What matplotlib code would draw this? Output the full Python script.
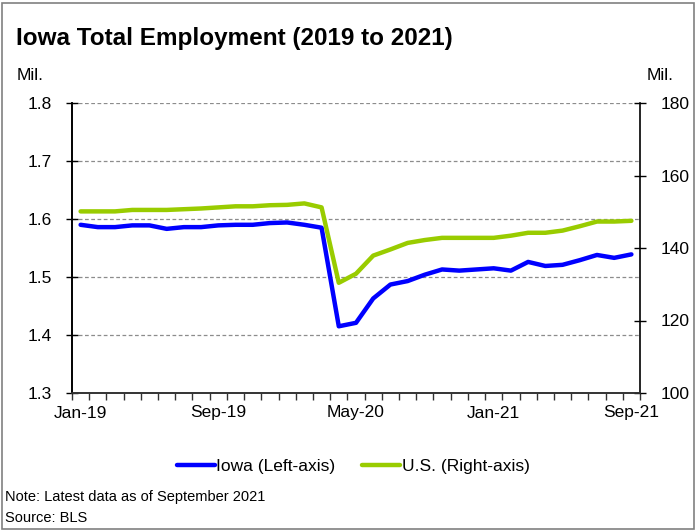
import matplotlib.pyplot as plt
import matplotlib.patches as mpatches
import numpy as np

plt.rcParams['font.family'] = ['Liberation Sans Narrow', 'Liberation Sans', 'DejaVu Sans']

months = ['Jan-19', 'Feb-19', 'Mar-19', 'Apr-19', 'May-19', 'Jun-19', 'Jul-19', 'Aug-19',
          'Sep-19', 'Oct-19', 'Nov-19', 'Dec-19', 'Jan-20', 'Feb-20', 'Mar-20', 'Apr-20',
          'May-20', 'Jun-20', 'Jul-20', 'Aug-20', 'Sep-20', 'Oct-20', 'Nov-20', 'Dec-20',
          'Jan-21', 'Feb-21', 'Mar-21', 'Apr-21', 'May-21', 'Jun-21', 'Jul-21', 'Aug-21',
          'Sep-21']

# Iowa total nonfarm employment, millions (left axis)
iowa = [1.590, 1.586, 1.586, 1.589, 1.589, 1.583, 1.586, 1.586,
        1.589, 1.590, 1.590, 1.593, 1.594, 1.590, 1.585, 1.415,
        1.421, 1.463, 1.487, 1.493, 1.504, 1.513, 1.511, 1.513,
        1.515, 1.511, 1.526, 1.519, 1.521, 1.529, 1.538, 1.533,
        1.539]

# U.S. total nonfarm employment, millions (right axis)
us = [150.1, 150.1, 150.1, 150.5, 150.5, 150.5, 150.7, 150.9,
      151.2, 151.5, 151.5, 151.8, 151.9, 152.3, 151.2, 130.4,
      132.9, 137.9, 139.6, 141.4, 142.2, 142.8, 142.8, 142.8,
      142.8, 143.4, 144.2, 144.2, 144.8, 146.0, 147.3, 147.3,
      147.5]

label_months = ['Jan-19', 'Sep-19', 'May-20', 'Jan-21', 'Sep-21']

x = np.arange(len(months))

fig = plt.figure(figsize=(6.97, 5.31), dpi=100)
ax = fig.add_axes([72/697, 1 - 393/531, 568/697, 290/531])
ax2 = ax.twinx()

ax.plot(x, iowa, color='#0000ff', lw=3.2, solid_capstyle='round', zorder=3)
ax2.plot(x, us, color='#99cc00', lw=3.2, solid_capstyle='round', zorder=3)

ax.set_xlim(-0.5, len(months) - 0.5)
ax.set_ylim(1.3, 1.8)
ax2.set_ylim(100, 180)
ax.set_yticks([1.3, 1.4, 1.5, 1.6, 1.7, 1.8])
ax.set_yticklabels(['1.3', '1.4', '1.5', '1.6', '1.7', '1.8'])
ax2.set_yticks([100, 120, 140, 160, 180])

for v in [1.4, 1.5, 1.6, 1.7, 1.8]:
    ax.axhline(v, color='#8c8c8c', lw=0.9, ls=(0, (3, 2)), zorder=1)

# category labels at the month, tick marks between months
ax.set_xticks([months.index(m) for m in label_months])
ax.set_xticklabels(label_months)
ax.set_xticks(np.arange(-0.5, len(months)), minor=True)
ax.tick_params(axis='x', which='major', length=0, pad=9, labelsize=12.5)
ax.tick_params(axis='x', which='minor', length=5, width=1, direction='out', color='#333333')
ax.tick_params(axis='y', length=9, width=1, direction='inout', pad=10, labelsize=12.5)
ax2.tick_params(axis='y', length=9, width=1, direction='inout', pad=10, labelsize=12.5)

for a in (ax, ax2):
    a.spines['top'].set_visible(False)
    a.spines['left'].set_linewidth(1.2)
    a.spines['right'].set_linewidth(1.2)
    a.spines['bottom'].set_color('#333333')
    a.spines['bottom'].set_linewidth(1.2)
ax.spines['right'].set_visible(False)

fig.text(16/697, 1 - 38/531, 'Iowa Total Employment (2019 to 2021)', fontsize=17.5,
         fontweight='bold', ha='left', va='center')
fig.text(17/697, 1 - 75/531, 'Mil.', fontsize=12.5, ha='left', va='center')
fig.text(660/697, 1 - 75/531, 'Mil.', fontsize=12.5, ha='center', va='center')

h1, = ax.plot([], [], color='#0000ff', lw=3.2, solid_capstyle='round')
h2, = ax.plot([], [], color='#99cc00', lw=3.2, solid_capstyle='round')
fig.legend([h1, h2], ['Iowa (Left-axis)', 'U.S. (Right-axis)'], loc='center',
           bbox_to_anchor=(353/697, 1 - 466/531), ncol=2, frameon=False, fontsize=12.5,
           handlelength=2.2, handletextpad=0.1, columnspacing=1.5)

fig.text(5/697, 1 - 497/531, 'Note: Latest data as of September 2021', fontsize=10.5,
         ha='left', va='center')
fig.text(5/697, 1 - 518/531, 'Source: BLS', fontsize=10.5, ha='left', va='center')

fig.patches.append(mpatches.Rectangle((2/697, 2/531), 692/697, 526/531, fill=False,
                                      edgecolor='#808080', lw=1.2, transform=fig.transFigure))

fig.savefig('out.png', dpi=100)
